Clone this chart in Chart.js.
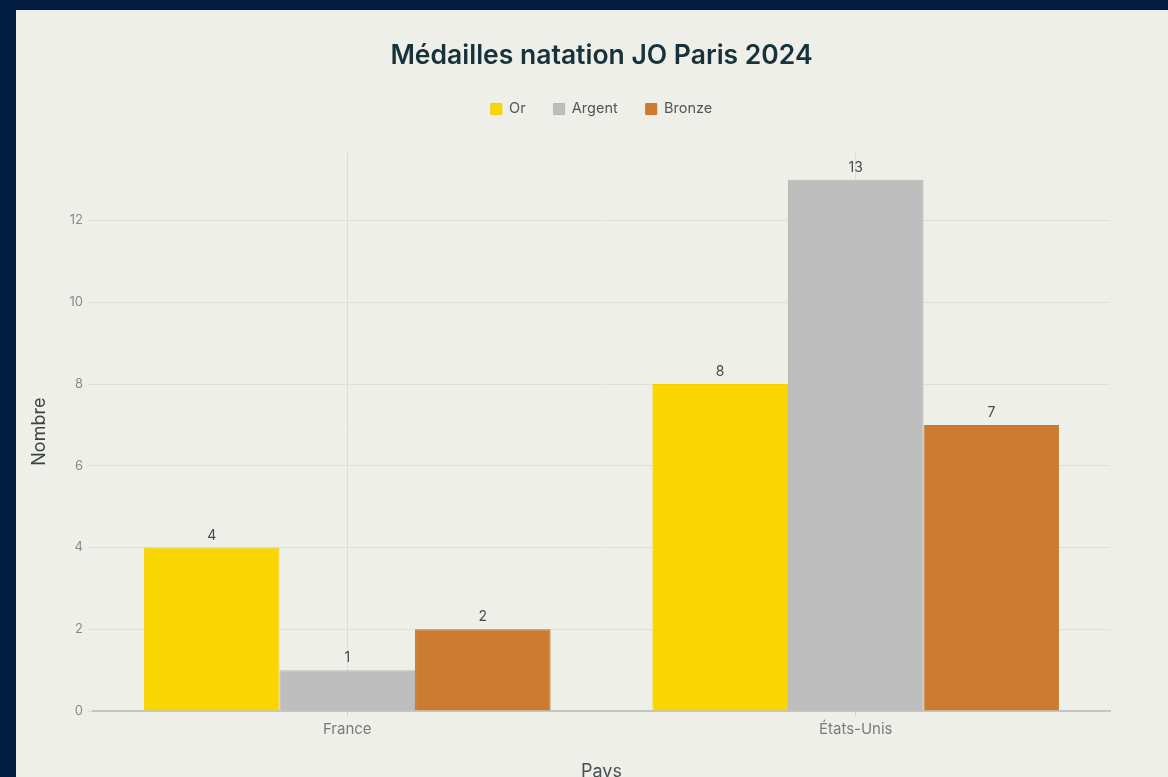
<!DOCTYPE html>
<html lang="fr">
<head>
<meta charset="utf-8">
<script src="https://cdn.jsdelivr.net/npm/chart.js@4.4.1/dist/chart.umd.min.js"></script>
<style>
  html, body { margin: 0; padding: 0; background: #031c42; width: 1168px; height: 777px; overflow: hidden; }
  #panel { position: absolute; left: 16px; top: 10px; width: 1152px; height: 767px; background: #efefea; overflow: hidden; }
  canvas { display: block; }
</style>
</head>
<body>
<div id="panel"><canvas id="c" width="1152" height="800"></canvas></div>
<script>
// ---- data ----
const categories = ['France', 'États-Unis'];
const seriesNames = ['Or', 'Argent', 'Bronze'];
const orValues = [4, 8];
const argentValues = [1, 13];
const bronzeValues = [2, 7];
const yTickValues = [0, 2, 4, 6, 8, 10, 12];
const yMax = 13.67;
const chartTitle = 'Médailles natation JO Paris 2024';
const xTitle = 'Pays';
const yTitle = 'Nombre';

const FONT = "Inter, 'Liberation Sans', Arial, sans-serif";

const valueLabels = {
  id: 'valueLabels',
  afterDatasetsDraw(chart) {
    const ctx = chart.ctx;
    ctx.save();
    ctx.font = '14px ' + FONT;
    ctx.fillStyle = '#4a4a4a';
    ctx.textAlign = 'center';
    ctx.textBaseline = 'bottom';
    chart.data.datasets.forEach((ds, i) => {
      const meta = chart.getDatasetMeta(i);
      meta.data.forEach((bar, j) => {
        ctx.fillText(String(ds.data[j]), bar.x, bar.y - 5);
      });
    });
    ctx.restore();
  }
};

new Chart(document.getElementById('c'), {
  type: 'bar',
  data: {
    labels: categories,
    datasets: [
      { label: seriesNames[0], data: orValues, backgroundColor: '#f9d501', borderColor: '#f2cf00', borderWidth: 1 },
      { label: seriesNames[1], data: argentValues, backgroundColor: '#bebebe', borderColor: '#b5b5b3', borderWidth: 1 },
      { label: seriesNames[2], data: bronzeValues, backgroundColor: '#cc7c31', borderColor: '#c4762d', borderWidth: 1 }
    ]
  },
  options: {
    responsive: false,
    animation: false,
    layout: { padding: { left: 0, right: 58, top: 0, bottom: 0 } },
    datasets: { bar: { categoryPercentage: 0.8, barPercentage: 1.0 } },
    plugins: {
      title: {
        display: true, text: chartTitle, fullSize: false,
        color: '#17323a',
        font: { family: FONT, size: 26.5, weight: 600 },
        padding: { top: 30, bottom: 2 }
      },
      subtitle: {
        display: true, text: '', fullSize: false, weight: 500,
        font: { size: 10 }, padding: { top: 0, bottom: 14 }
      },
      legend: {
        display: true, fullSize: false,
        labels: {
          boxWidth: 11, boxHeight: 11, padding: 28,
          color: '#555555',
          font: { family: FONT, size: 14.5 }
        }
      },
      tooltip: { enabled: false }
    },
    scales: {
      x: {
        afterFit(s) { s.height = 99; },
        grid: { display: true, offset: false, color: '#dcddd8', lineWidth: 1, drawTicks: true, tickLength: 5, tickColor: '#cfcfcb' },
        border: { display: true, color: '#c5c5c1', width: 2 },
        ticks: { color: '#7a7a7a', font: { family: FONT, size: 15 }, padding: 4 },
        title: { display: true, text: xTitle, color: '#4a4f52', font: { family: FONT, size: 18 }, padding: { top: 0, bottom: 28 } }
      },
      y: {
        min: 0, max: yMax,
        afterFit(s) { s.width = 77; },
        afterBuildTicks(s) { s.ticks = yTickValues.map(v => ({ value: v })); },
        grid: { color: '#dfe0db', lineWidth: 1, drawTicks: true, tickLength: 5 },
        border: { display: false },
        ticks: { color: '#8a8a8a', font: { family: FONT, size: 13 }, padding: 5 },
        title: { display: true, text: yTitle, color: '#3d4246', font: { family: FONT, size: 18 }, padding: { top: 13, bottom: 0 } }
      }
    }
  },
  plugins: [valueLabels]
});
</script>
</body>
</html>
